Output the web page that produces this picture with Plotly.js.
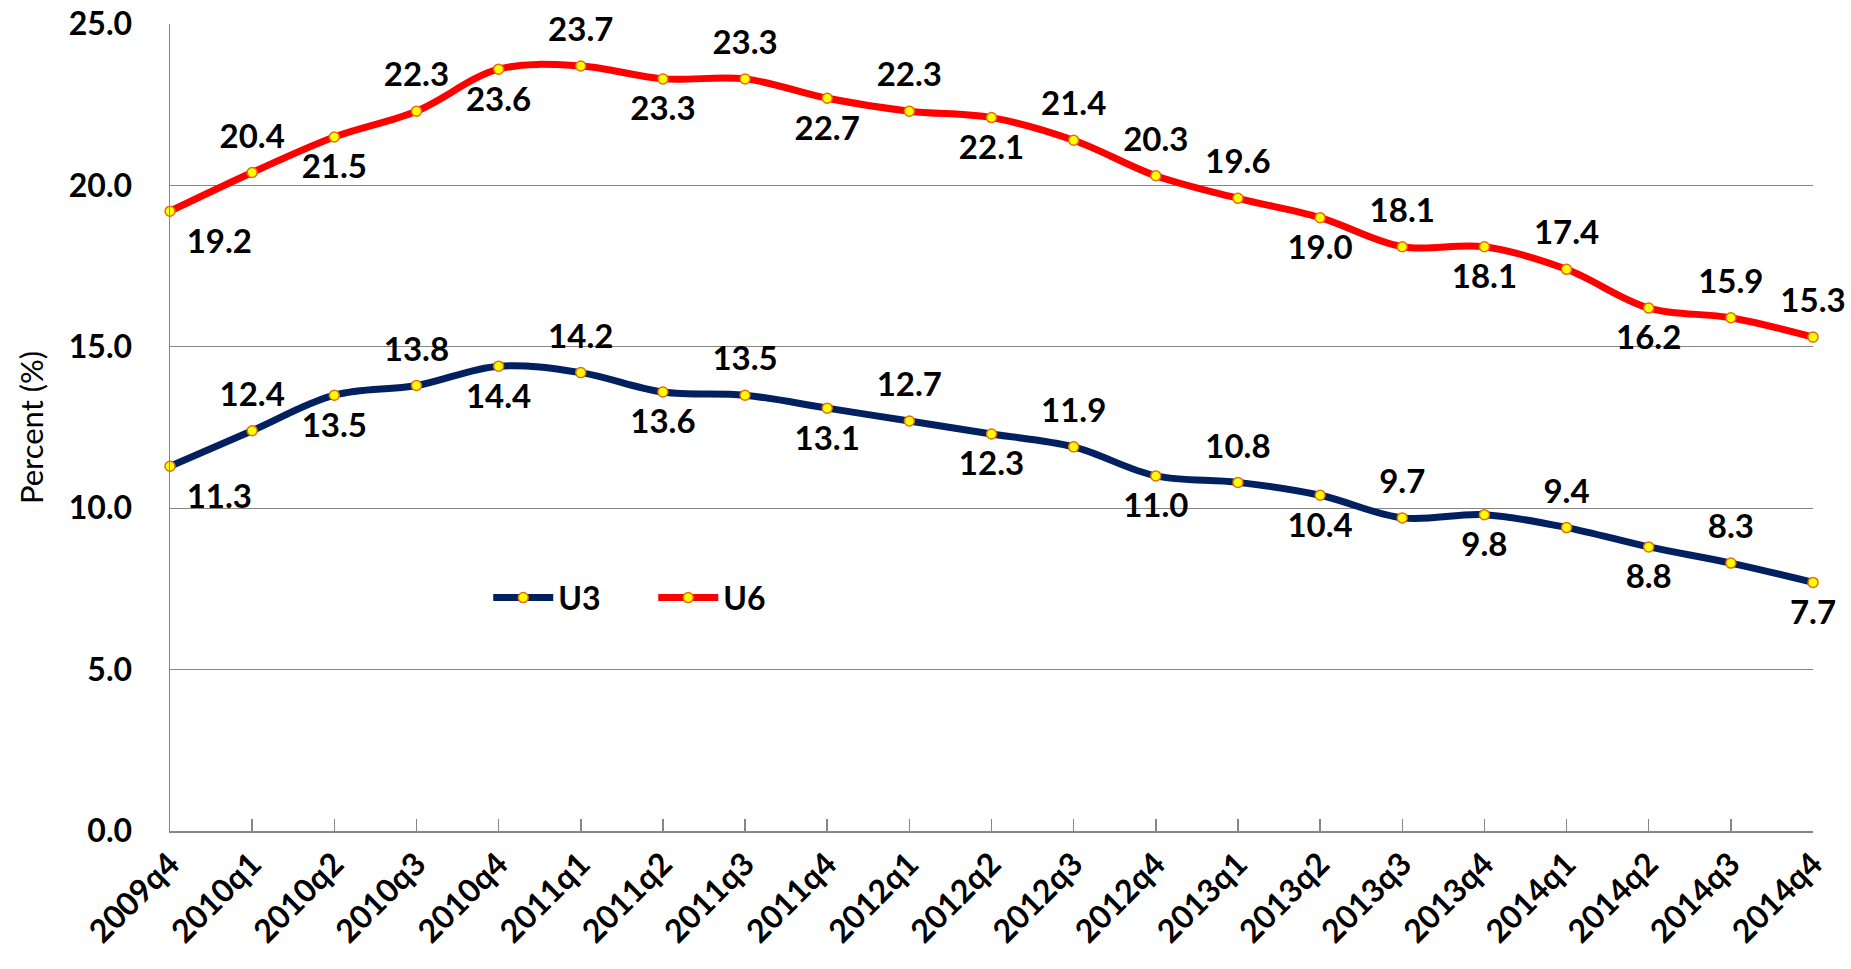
<!DOCTYPE html>
<html>
<head>
<meta charset="utf-8">
<script src="https://cdn.plot.ly/plotly-3.0.1.min.js"></script>
<style>
  html, body { margin: 0; padding: 0; background: #fff; }
  #chart { width: 1851px; height: 969px; }
</style>
</head>
<body>
<div id="chart"></div>
<script>
const quarters = ["2009q4","2010q1","2010q2","2010q3","2010q4","2011q1","2011q2","2011q3","2011q4",
  "2012q1","2012q2","2012q3","2012q4","2013q1","2013q2","2013q3","2013q4","2014q1","2014q2","2014q3","2014q4"];
const u3 = [11.3, 12.4, 13.5, 13.8, 14.4, 14.2, 13.6, 13.5, 13.1, 12.7, 12.3, 11.9, 11.0, 10.8, 10.4, 9.7, 9.8, 9.4, 8.8, 8.3, 7.7];
const u6 = [19.2, 20.4, 21.5, 22.3, 23.6, 23.7, 23.3, 23.3, 22.7, 22.3, 22.1, 21.4, 20.3, 19.6, 19.0, 18.1, 18.1, 17.4, 16.2, 15.9, 15.3];
const yTicks = [0, 5, 10, 15, 20, 25];

// label placement (style, not data)
const u3LabelPos = ["bottom right","top center","bottom center","top center","bottom center","top center","bottom center",
  "top center","bottom center","top center","bottom center","top center","bottom center","top center","bottom center",
  "top center","bottom center","top center","bottom center","top center","bottom center"];
const u6LabelPos = ["bottom right","top center","bottom center","top center","bottom center","top center","bottom center",
  "top center","bottom center","top center","bottom center","top center","top center","top center","bottom center",
  "top center","bottom center","top center","bottom center","top center","top center"];

const FONT = "Lato, 'Open Sans', 'DejaVu Sans', sans-serif";
const labelFont = {family: FONT, size: 33, color: "#000000", weight: 700};
const markerStyle = {size: 10, color: "#FFFF00", line: {color: "#E46C0A", width: 1.5}};

function lineTrace(name, y, color) {
  return {
    x: quarters, y: y, name: name, type: "scatter", mode: "lines+markers",
    line: {color: color, width: 7, shape: "spline", smoothing: 1},
    marker: markerStyle, cliponaxis: false, hoverinfo: "x+y+name"
  };
}
function labelTrace(y, pos) {
  return {
    x: quarters, y: y, type: "scatter", mode: "markers+text", showlegend: false,
    text: y.map(v => v.toFixed(1)), textposition: pos, textfont: labelFont,
    marker: {size: 25, color: "rgba(0,0,0,0)", opacity: 0},
    cliponaxis: false, hoverinfo: "skip"
  };
}

const data = [
  lineTrace("U3", u3, "#002060"),
  lineTrace("U6", u6, "#FF0000"),
  labelTrace(u3, u3LabelPos),
  labelTrace(u6, u6LabelPos)
];

const layout = {
  width: 1851, height: 969,
  margin: {l: 170, r: 38, t: 24, b: 138},
  paper_bgcolor: "#ffffff", plot_bgcolor: "#ffffff",
  font: {family: FONT, size: 30, color: "#000000"},
  showlegend: true,
  legend: {
    orientation: "h", x: 0.1937, xanchor: "left", y: 0.289, yanchor: "middle",
    font: {family: FONT, size: 32, color: "#000000", weight: 700},
    bgcolor: "rgba(0,0,0,0)", itemwidth: 60, tracegroupgap: 0,
    entrywidth: 90, entrywidthmode: "pixels"
  },
  xaxis: {
    type: "category", range: [0, 20],
    showline: true, linecolor: "#868686", linewidth: 1.5,
    ticks: "inside", ticklen: 12, tickcolor: "#868686", tickwidth: 1.5,
    showgrid: false, tickangle: -45,
    tickfont: {family: FONT, size: 32, color: "#000000", weight: 700},
    fixedrange: true
  },
  yaxis: {
    range: [0, 25], tickvals: yTicks, tickformat: ".1f",
    showline: true, linecolor: "#868686", linewidth: 1.5,
    showgrid: true, gridcolor: "#868686", gridwidth: 1.3,
    zeroline: false, ticks: "", ticklabelstandoff: 30,
    tickfont: {family: FONT, size: 32, color: "#000000", weight: 700},
    title: {text: "Percent (%)", font: {family: FONT, size: 31, color: "#000000"}, standoff: 16},
    fixedrange: true
  }
};

Plotly.newPlot("chart", data, layout, {displayModeBar: false, staticPlot: true});
</script>
</body>
</html>
